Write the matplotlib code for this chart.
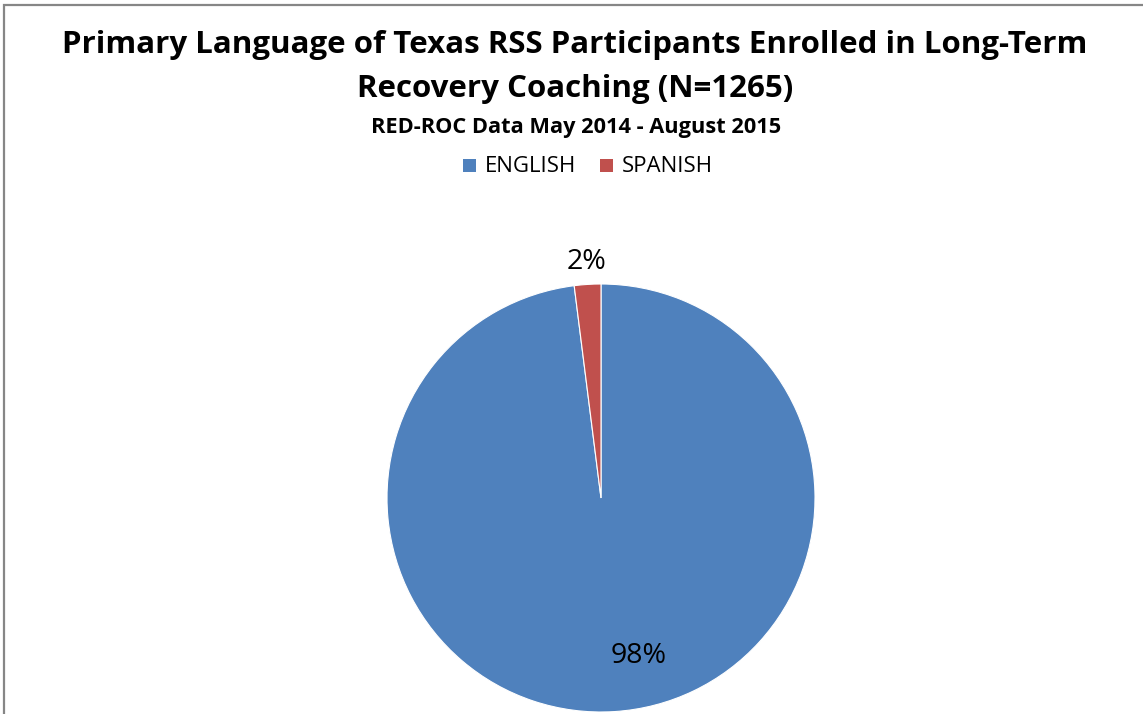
import numpy as np
import matplotlib
matplotlib.use("Agg")
import matplotlib.pyplot as plt
from matplotlib.patches import Rectangle, Patch

categories = ["ENGLISH", "SPANISH"]
values = [98, 2]
pct_labels = ["98%", "2%"]
colors = ["#4F81BD", "#C0504D"]

title_line1 = "Primary Language of Texas RSS Participants Enrolled in Long-Term"
title_line2 = "Recovery Coaching (N=1265)"
subtitle = "RED-ROC Data May 2014 - August 2015"

W, H = 1143, 714
fig = plt.figure(figsize=(W / 100, H / 100), dpi=100)
fig.patch.set_facecolor("white")

FONT = ["Open Sans", "DejaVu Sans"]

# outer frame
fig.add_artist(Rectangle((4 / W, -0.05), 1.2, 1 - 5 / H + 0.05, transform=fig.transFigure,
                         fill=False, edgecolor="#868686", linewidth=1.6))

cx, cy, r = 601, 498, 214
ax = fig.add_axes([(cx - r) / W, (H - cy - r) / H, 2 * r / W, 2 * r / H])
wedges, _ = ax.pie(values, colors=colors, startangle=90, counterclock=False,
                   wedgeprops=dict(edgecolor="white", linewidth=0.8), radius=1)
ax.set_xlim(-1, 1)
ax.set_ylim(-1, 1)
ax.set_aspect("equal")
ax.axis("off")

# percent labels
label_pos = [(0.76, -76.8), (1.105, None)]
for w, lab, (dist, ang) in zip(wedges, pct_labels, label_pos):
    if ang is None:
        ang = (w.theta1 + w.theta2) / 2
    x = dist * np.cos(np.deg2rad(ang))
    y = dist * np.sin(np.deg2rad(ang))
    ax.text(x, y, lab, ha="center", va="center", fontsize=20.5, family=FONT, color="black",
            clip_on=False)

fig.text(575 / W, 1 - 45 / H, title_line1, ha="center", va="center", fontsize=22.5,
         fontweight="bold", family=FONT)
fig.text(575 / W, 1 - 89 / H, title_line2, ha="center", va="center", fontsize=22.5,
         fontweight="bold", family=FONT)
fig.text(576 / W, 1 - 128 / H, subtitle, ha="center", va="center", fontsize=15.7,
         fontweight="bold", family=FONT)

handles = [Patch(facecolor=c, edgecolor="none") for c in colors]
leg = fig.legend(handles, categories, loc="center", bbox_to_anchor=(588 / W, 1 - 167 / H),
                 ncol=2, frameon=False, prop={"family": FONT, "size": 16},
                 handlelength=0.62, handleheight=0.62, handletextpad=0.35, columnspacing=1.1,
                 borderpad=0.2)
for p in leg.get_patches():
    p.set_height(13 * 72 / 100)
    p.set_width(13 * 72 / 100)

fig.savefig("out.png", dpi=100, facecolor="white")
